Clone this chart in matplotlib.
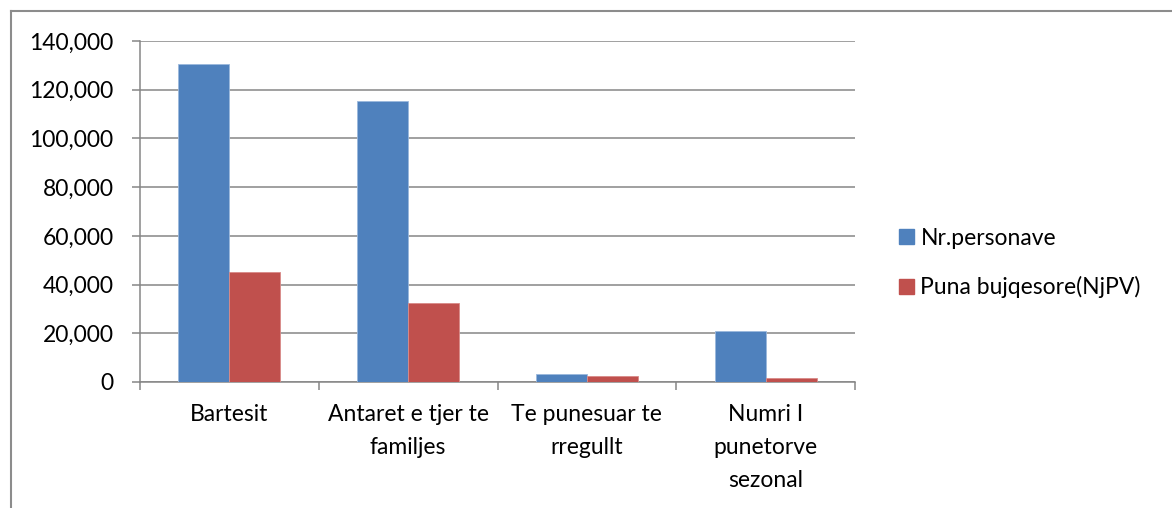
import matplotlib
matplotlib.use("Agg")
import matplotlib.pyplot as plt
from matplotlib.lines import Line2D
from matplotlib.patches import Patch
from matplotlib.ticker import FuncFormatter, FixedLocator

# Data
categories = ["Bartesit", "Antaret e tjer te\nfamiljes", "Te punesuar te\nrregullt",
              "Numri I\npunetorve\nsezonal"]
nr_personave = [130500, 115400, 3400, 20800]
puna_bujqesore = [45300, 32400, 2600, 1600]
series_names = ["Nr.personave", "Puna bujqesore(NjPV)"]

blue = "#4F81BD"
red = "#C0504D"
grey = "#868686"

plt.rcParams["font.family"] = ["Lato", "DejaVu Sans"]

fig = plt.figure(figsize=(11.72, 5.08), dpi=100)
ax = fig.add_axes([140 / 1172, 1 - 382 / 508, 715 / 1172, 341 / 508])

x = list(range(len(categories)))
w = 0.285
ax.bar([i - w / 2 for i in x], nr_personave, w, color=blue, edgecolor="#9bb8dc", linewidth=0.6,
       zorder=3)
ax.bar([i + w / 2 for i in x], puna_bujqesore, w, color=red, edgecolor="#d98a88", linewidth=0.6,
       zorder=3)

ax.set_xlim(-0.5, len(categories) - 0.5)
ax.set_ylim(0, 140000)
ax.set_yticks(range(0, 140001, 20000))
ax.yaxis.set_major_formatter(FuncFormatter(lambda v, p: f"{int(v):,}"))
ax.grid(axis="y", color=grey, linewidth=1.1, zorder=0)

# category labels, with tick marks between the categories
ax.set_xticks(x)
ax.set_xticklabels(categories, linespacing=1.7)
ax.xaxis.set_minor_locator(FixedLocator([i - 0.5 for i in range(len(categories) + 1)]))
ax.tick_params(axis="x", which="major", length=0, pad=16, labelsize=16.5)
ax.tick_params(axis="x", which="minor", length=6, width=1.1, color=grey)
ax.tick_params(axis="y", length=6, width=1.1, color=grey, pad=13, labelsize=16.5)

for s in ["top", "right"]:
    ax.spines[s].set_visible(False)
for s in ["left", "bottom"]:
    ax.spines[s].set_color(grey)
    ax.spines[s].set_linewidth(1.1)

handles = [Patch(color=blue), Patch(color=red)]
fig.legend(handles, series_names, loc="center left", bbox_to_anchor=(878 / 1172, 1 - 263 / 508),
           frameon=False, fontsize=16.5, handlelength=0.65, handleheight=0.65,
           handletextpad=0.3, labelspacing=1.2)

# outer chart frame (runs off the right and bottom edges)
fig.add_artist(Line2D([10.5 / 1172, 10.5 / 1172], [0, 1 - 11 / 508], color="#8c8c8c",
                      linewidth=1.5, transform=fig.transFigure))
fig.add_artist(Line2D([10.5 / 1172, 1], [1 - 11 / 508, 1 - 11 / 508], color="#8c8c8c",
                      linewidth=1.5, transform=fig.transFigure))

fig.savefig("out.png", dpi=100)
